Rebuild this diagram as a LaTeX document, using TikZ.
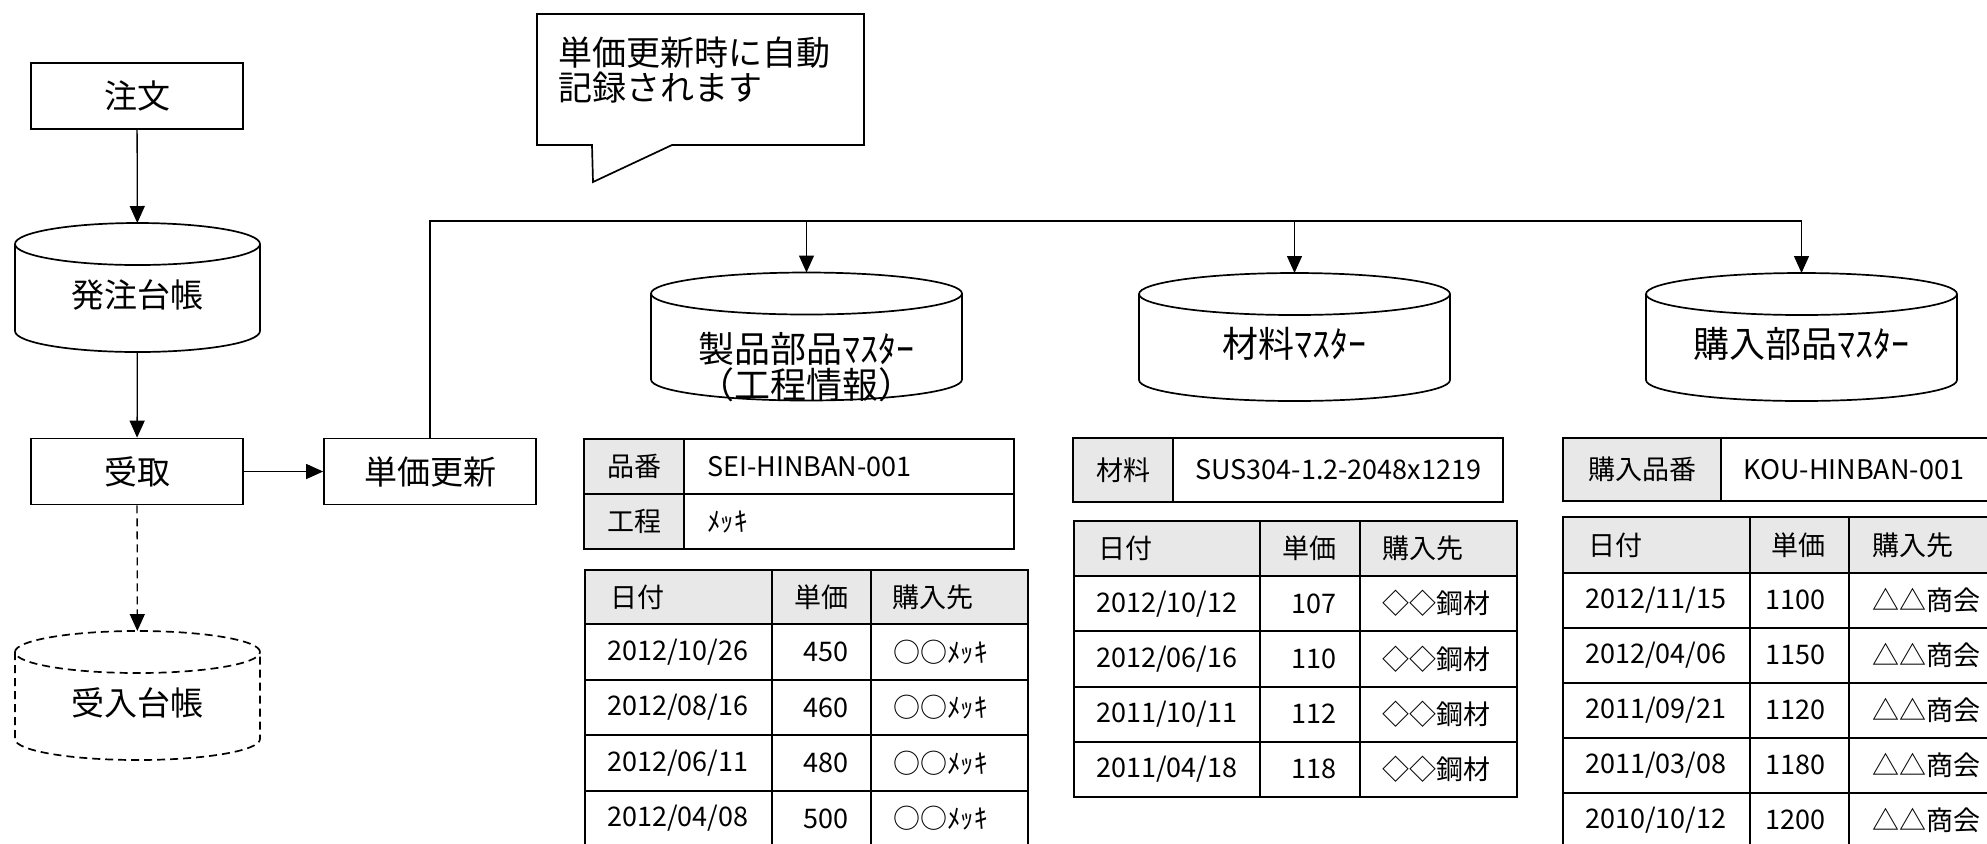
\documentclass[tikz,border=0pt]{standalone}
\usepackage{fontspec}
\setmainfont{Noto Sans CJK JP}
\usepackage{tikz}
\usetikzlibrary{arrows.meta}
\definecolor{cellgray}{HTML}{E8E8E8}
\newcommand\drum[3][]{%
  \draw[line width=0.85pt,#1] ([yshift=-10.5pt]#2.north) ellipse [x radius=#3,y radius=10.5pt]
    ([yshift=-10.5pt]#2.north west) -- ([yshift=10.5pt]#2.south west)
    arc [start angle=180,end angle=360,x radius=#3,y radius=10.5pt] -- ([yshift=-10.5pt]#2.north east);}

\begin{document}
\begin{tikzpicture}[
  x=0.5pt,y=-0.5pt,
  box/.style={draw=black,line width=0.85pt,minimum width=106pt,minimum height=33pt,font=\fontsize{16.5}{19}\selectfont},
  db/.style={inner sep=0pt,outer sep=0pt,text height=22.2pt,text depth=2pt},
  dbs/.style={db,minimum width=122.5pt,minimum height=64.5pt,font=\fontsize{16.5}{19}\selectfont},
  dbm/.style={db,minimum width=155.5pt,minimum height=64pt,font=\fontsize{18}{18}\selectfont},
  a/.style={-{Triangle[length=8.5pt,width=7.5pt]},line width=0.65pt},
  dsh/.style={dash pattern=on 4pt off 2.5pt},
  bus/.style={line width=1.15pt},
  tb/.style={line width=1.35pt},
  tf/.style={inner sep=0pt,font=\fontsize{13.5}{16}\selectfont},
  lw/.style={tf,anchor=west},
  le/.style={tf,anchor=east}
]
\useasboundingbox (0,0) rectangle (1987,843);
\clip (0,0) rectangle (1987,843);

\node[box] (order) at (137,96) {注文};
\node[dbs] (hl) at (137.5,287.5) {発注台帳};
\node[box] (recv) at (137,471.5) {受取};
\node[box] (upd) at (430,471.5) {単価更新};
\node[dbs] (ul) at (137.5,695.5) {受入台帳};
\drum{hl}{61.25pt}
\drum[dsh]{ul}{61.25pt}
\draw[a] (order) -- (hl);
\draw[a] (hl) -- (recv);
\draw[a] (recv) -- (upd);
\draw[a,dsh] (recv) -- (ul);

\draw[line width=0.85pt] (537,14) -- (864,14) -- (864,145) -- (672,145) -- (593,182) -- (592,145) -- (537,145) -- cycle;
\node[anchor=north west,align=left,inner sep=0pt,font=\fontsize{17}{17.5}\selectfont] (memo) at (558,36) {単価更新時に自動\\記録されます};

\node[dbm] (pm) at (806.5,336.5) {};
\node[align=center,inner sep=0pt,font=\fontsize{18}{18}\selectfont] (pmtext) at (806.5,367) {製品部品ﾏｽﾀｰ\\（工程情報）};
\node[dbm] (mm) at (1294.5,337) {材料ﾏｽﾀｰ};
\node[dbm] (km) at (1801.5,337) {購入部品ﾏｽﾀｰ};
\drum{pm}{77.75pt}
\drum{mm}{77.75pt}
\drum{km}{77.75pt}
\coordinate (jct) at (430,221);
\draw[bus] (upd.north) |- (km.north |- jct);
\foreach \m in {pm,mm,km}
  \draw[a] (\m.north |- jct) -- (\m.north);

\fill[cellgray] (584,439) rectangle (684,549);
\draw[tb] (584,439) rectangle (1014,549) (584,494) -- (1014,494) (684,439) -- (684,549);
\node[tf] (pk1) at (634,466.5) {品番};
\node[lw] (pv1) at (707,466.5) {SEI-HINBAN-001};
\node[tf] (pk2) at (634,521.5) {工程};
\node[lw] (pv2) at (707,521.5) {ﾒｯｷ};

\fill[cellgray] (585,570) rectangle (1028,624);
\draw[tb] (585,570) rectangle (1028,846) (772,570) -- (772,846) (871,570) -- (871,846);
\foreach \y in {624,680,735,791} \draw[tb] (585,\y) -- (1028,\y);
\node[lw] (ph1) at (610,597) {日付};
\node[le] (ph2) at (849,597) {単価};
\node[lw] (ph3) at (892,597) {購入先};
\foreach \d/\u [count=\i] in {{2012/10/26}/450,{2012/08/16}/460,{2012/06/11}/480,{2012/04/08}/500} {
  \node[lw] (pd\i) at (607,{596.5+55.5*\i}) {\d};
  \node[le] (pu\i) at (849,{596.5+55.5*\i}) {\u};
  \node[lw] (ps\i) at (893,{596.5+55.5*\i}) {○○ﾒｯｷ};
}

\fill[cellgray] (1073,438) rectangle (1173,502);
\draw[tb] (1073,438) rectangle (1503,502) (1173,438) -- (1173,502);
\node[tf] (mk) at (1123,470) {材料};
\node[lw] (mv) at (1195,470) {SUS304-1.2-2048x1219};

\fill[cellgray] (1074,521) rectangle (1517,576);
\draw[tb] (1074,521) rectangle (1517,797) (1260,521) -- (1260,797) (1360,521) -- (1360,797);
\foreach \y in {576,631,687,742} \draw[tb] (1074,\y) -- (1517,\y);
\node[lw] (mh1) at (1098,548.5) {日付};
\node[le] (mh2) at (1337,548.5) {単価};
\node[lw] (mh3) at (1382,548.5) {購入先};
\foreach \d/\u [count=\i] in {{2012/10/12}/107,{2012/06/16}/110,{2011/10/11}/112,{2011/04/18}/118} {
  \node[lw] (md\i) at (1096,{548.5+55.2*\i}) {\d};
  \node[le] (mu\i) at (1337,{548.5+55.2*\i}) {\u};
  \node[lw] (ms\i) at (1382,{548.5+55.2*\i}) {◇◇鋼材};
}

\fill[cellgray] (1563,438) rectangle (1721,501);
\draw[tb] (1563,438) rectangle (1993,501) (1721,438) -- (1721,501);
\node[tf] (kk) at (1642,469.5) {購入品番};
\node[lw] (kv) at (1743,469.5) {KOU-HINBAN-001};

\fill[cellgray] (1563,517) rectangle (2006,573);
\draw[tb] (1563,517) rectangle (2006,848) (1750,517) -- (1750,848) (1849,517) -- (1849,848);
\foreach \y in {573,628,683,738,793} \draw[tb] (1563,\y) -- (2006,\y);
\node[lw] (kh1) at (1588,545) {日付};
\node[le] (kh2) at (1826,545) {単価};
\node[lw] (kh3) at (1872,545) {購入先};
\foreach \d/\u [count=\i] in {{2012/11/15}/1100,{2012/04/06}/1150,{2011/09/21}/1120,{2011/03/08}/1180,{2010/10/12}/1200} {
  \node[lw] (kd\i) at (1585,{545+55*\i}) {\d};
  \node[le] (ku\i) at (1826,{545+55*\i}) {\u};
  \node[lw] (ks\i) at (1872,{545+55*\i}) {△△商会};
}
\end{tikzpicture}
\end{document}
